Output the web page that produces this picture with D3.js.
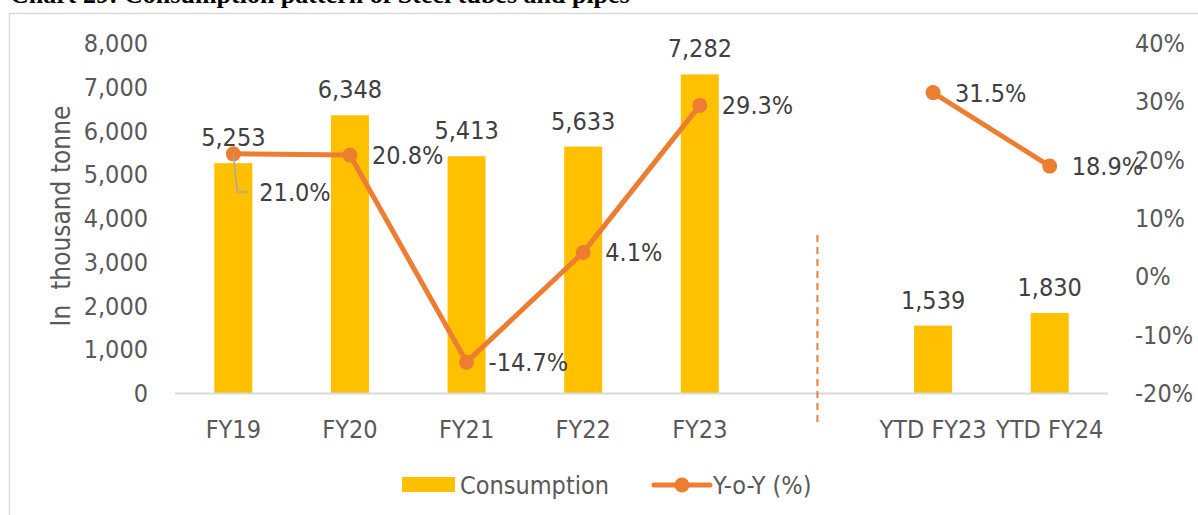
<!DOCTYPE html>
<html lang="en">
<head>
<meta charset="utf-8">
<title>Consumption pattern of Steel tubes and pipes</title>
<script src="https://d3js.org/d3.v7.min.js"></script>
<style>
  html, body { margin: 0; padding: 0; background: #fff; }
  svg { display: block; }
  .lbl { font-family: "DejaVu Sans Condensed", "DejaVu Sans", sans-serif; font-stretch: condensed; }
  .title { font-family: "Liberation Serif", "Times New Roman", serif; font-weight: bold; }
</style>
</head>
<body>
<script>
// data
const categories = ["FY19", "FY20", "FY21", "FY22", "FY23", "", "YTD FY23", "YTD FY24"];
const consumption = [5253, 6348, 5413, 5633, 7282, null, 1539, 1830];
const yoy = [21.0, 20.8, -14.7, 4.1, 29.3, null, 31.5, 18.9];
const leftTicks = [0, 1000, 2000, 3000, 4000, 5000, 6000, 7000, 8000];
const rightTicks = [-20, -10, 0, 10, 20, 30, 40];

const W = 1198, H = 515;
const svg = d3.select("body").append("svg").attr("width", W).attr("height", H);

// outer frame + title
svg.append("rect").attr("x", 9.5).attr("y", 13.5).attr("width", 1200).attr("height", 520)
  .attr("fill", "none").attr("stroke", "#d9d9d9").attr("stroke-width", 1.5);
svg.append("text").attr("class", "title").attr("x", 10).attr("y", 3)
  .attr("font-size", 26).attr("fill", "#000")
  .text("Chart 29: Consumption pattern of Steel tubes and pipes");

const x = d3.scaleBand().domain(categories).range([175, 1108]).padding(0);
const y = d3.scaleLinear().domain([0, 8000]).range([393, 43]);
const y2 = d3.scaleLinear().domain([-20, 40]).range([393, 43]);
const barW = 38;
const cx = c => x(c) + x.bandwidth() / 2;
const pct = v => d3.format(".1f")(v).replace("\u2212", "-") + "%";

// left axis labels
svg.append("g").selectAll("text").data(leftTicks).join("text")
  .attr("class", "lbl").attr("x", 148).attr("y", d => y(d)).attr("dy", "0.36em")
  .attr("text-anchor", "end").attr("font-size", 25).attr("fill", "#595959")
  .text(d => d3.format(",")(d));

// right axis labels
svg.append("g").selectAll("text").data(rightTicks).join("text")
  .attr("class", "lbl").attr("x", 1135).attr("y", d => y2(d)).attr("dy", "0.36em")
  .attr("font-size", 25).attr("fill", "#595959")
  .text(d => d + "%");

// axis title
svg.append("text").attr("class", "lbl")
  .attr("transform", "translate(70,216) rotate(-90)")
  .attr("text-anchor", "middle").attr("font-size", 26).attr("fill", "#595959")
  .attr("xml:space", "preserve")
  .text("In  thousand tonne");

// bars
const barData = categories.map((c, i) => ({ c, v: consumption[i] })).filter(d => d.v != null);
svg.append("g").selectAll("rect").data(barData).join("rect")
  .attr("x", d => cx(d.c) - barW / 2).attr("width", barW)
  .attr("y", d => y(d.v)).attr("height", d => y(0) - y(d.v))
  .attr("fill", "#FFC000");

// baseline
svg.append("line").attr("x1", 175).attr("x2", 1108).attr("y1", 393.5).attr("y2", 393.5)
  .attr("stroke", "#d9d9d9").attr("stroke-width", 2);

// x labels
svg.append("g").selectAll("text").data(categories).join("text")
  .attr("class", "lbl").attr("x", d => cx(d)).attr("y", 438)
  .attr("text-anchor", "middle").attr("font-size", 25).attr("fill", "#595959")
  .text(d => d);

// separator
const sepX = cx("") + 1;
svg.append("line").attr("x1", sepX).attr("x2", sepX).attr("y1", 235).attr("y2", 425)
  .attr("stroke", "#ED7D31").attr("stroke-width", 2).attr("stroke-dasharray", "7,5");

// bar labels
svg.append("g").selectAll("text").data(barData).join("text")
  .attr("class", "lbl").attr("x", d => cx(d.c)).attr("y", d => y(d.v) - 17)
  .attr("text-anchor", "middle").attr("font-size", 25).attr("fill", "#404040")
  .text(d => d3.format(",")(d.v));

// yoy line
const pts = categories.map((c, i) => ({ c, v: yoy[i] }));
const line = d3.line().defined(d => d.v != null).x(d => cx(d.c)).y(d => y2(d.v));
svg.append("path").datum(pts).attr("d", line)
  .attr("fill", "none").attr("stroke", "#ED7D31").attr("stroke-width", 5)
  .attr("stroke-linejoin", "round").attr("stroke-linecap", "round");
const ptsOk = pts.filter(d => d.v != null);
svg.append("g").selectAll("circle").data(ptsOk).join("circle")
  .attr("cx", d => cx(d.c)).attr("cy", d => y2(d.v)).attr("r", 7.5)
  .attr("fill", "#ED7D31");

// yoy labels (first one pulled down with a leader line)
const first = ptsOk[0];
svg.append("polyline")
  .attr("points", [[cx(first.c), y2(first.v)], [cx(first.c) + 4, 192], [cx(first.c) + 15, 192]].join(" "))
  .attr("fill", "none").attr("stroke", "#a6a6a6").attr("stroke-width", 1.5);
svg.append("g").selectAll("text").data(ptsOk).join("text")
  .attr("class", "lbl")
  .attr("x", (d, i) => i === 0 ? cx(d.c) + 26 : cx(d.c) + 22)
  .attr("y", (d, i) => i === 0 ? 192 : y2(d.v)).attr("dy", "0.36em")
  .attr("font-size", 25).attr("fill", "#404040")
  .text(d => pct(d.v));

// legend
const lg = svg.append("g");
lg.append("rect").attr("x", 402).attr("y", 477).attr("width", 53).attr("height", 15).attr("fill", "#FFC000");
lg.append("text").attr("class", "lbl").attr("x", 460).attr("y", 485).attr("dy", "0.36em")
  .attr("font-size", 25).attr("fill", "#595959").text("Consumption");
lg.append("line").attr("x1", 654).attr("x2", 710).attr("y1", 485).attr("y2", 485)
  .attr("stroke", "#ED7D31").attr("stroke-width", 5).attr("stroke-linecap", "round");
lg.append("circle").attr("cx", 682).attr("cy", 485).attr("r", 7.5).attr("fill", "#ED7D31");
lg.append("text").attr("class", "lbl").attr("x", 713).attr("y", 485).attr("dy", "0.36em")
  .attr("font-size", 25).attr("fill", "#595959").text("Y-o-Y (%)");
</script>
</body>
</html>
